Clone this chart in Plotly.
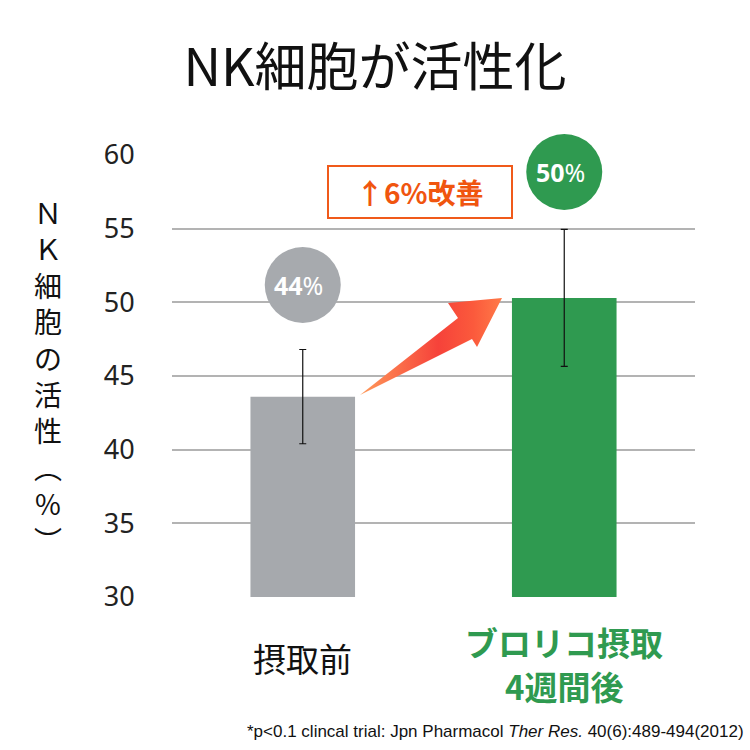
import plotly.graph_objects as go

# ---- data ----
categories = ["摂取前", "ブロリコ摂取<br>4週間後"]
values = [43.6, 50.3]
errors = [3.2, 4.65]
value_numbers = ["44", "50"]
bar_colors = ["#a6a9ad", "#2f9a50"]
label_colors = ["#111111", "#2f9a50"]
tick_vals = [30, 35, 40, 45, 50, 55, 60]
title_text = "NK細胞が活性化"
ytitle_chars = ["Ｎ", "Ｋ", "細", "胞", "の", "活", "性", "︵", "%", "︶"]
improve_text = "↑6%改善"
footnote = "*p<0.1 clincal trial: Jpn Pharmacol <i>Ther Res.</i> 40(6):489-494(2012)"

W, H = 750, 750
L, R, T, B = 172, 55, 155, 153
PW, PH = W - L - R, H - T - B

def px_x(p):
    return (p - L) / PW

def px_y(p):
    return (H - B - p) / PH

JP = "Noto Sans CJK JP"

fig = go.Figure()
fig.add_trace(go.Bar(
    x=[0, 1], y=values, width=0.4,
    marker=dict(color=bar_colors, line=dict(width=0)),
    error_y=dict(type="data", array=errors, color="#111111", thickness=1.2, width=3.5),
    hoverinfo="skip", showlegend=False,
))

# arrow (decoration) on pixel-coordinate overlay axes
arrow_x = [360, 458, 448, 502, 477, 472, 360]
arrow_y = [395, 318, 303, 298, 347, 339, 395]
fig.add_trace(go.Scatter(
    x=arrow_x, y=arrow_y, xaxis="x2", yaxis="y2", mode="lines",
    fill="toself", line=dict(width=0, color="rgba(0,0,0,0)"),
    fillgradient=dict(type="horizontal",
                      colorscale=[[0, "#ff9a5a"], [0.55, "#f6423a"], [0.8, "#fb5a3c"], [1, "#ff7a48"]]),
    hoverinfo="skip", showlegend=False,
))

shapes = []
annotations = []

# value circles
circle_cy = [285, 172]
circle_fill = ["#a7aaae", "#2f9a50"]
for i in range(2):
    shapes.append(dict(type="circle", xref="x", yref="paper", xsizemode="pixel", ysizemode="pixel",
                       xanchor=i, yanchor=px_y(circle_cy[i]), x0=-38, x1=38, y0=-38, y1=38,
                       fillcolor=circle_fill[i], line=dict(width=0), layer="above"))
    annotations.append(dict(x=i - 0.015, y=px_y(circle_cy[i]), xref="x", yref="paper",
                            text="<b>" + value_numbers[i] + "</b>%",
                            showarrow=False, font=dict(family="Noto Sans", size=25, color="white"),
                            xanchor="center", yanchor="middle"))

# improvement box
shapes.append(dict(type="rect", xref="paper", yref="paper",
                   x0=px_x(328), x1=px_x(512), y0=px_y(218), y1=px_y(166),
                   fillcolor="white", line=dict(color="#f05a1a", width=2), layer="above"))
annotations.append(dict(x=px_x(420), y=px_y(192), xref="paper", yref="paper",
                        text="<b>" + improve_text + "</b>", showarrow=False,
                        font=dict(family=JP, size=28, color="#f0550f"),
                        xanchor="center", yanchor="middle"))

# x category labels (each line as its own text)
label_first_cy = [658, 642]
for i, c in enumerate(categories):
    for j, line in enumerate(c.split("<br>")):
        txt = line if i == 0 else "<b>" + line + "</b>"
        annotations.append(dict(x=i, y=px_y(label_first_cy[i] + 44 * j), xref="x", yref="paper", text=txt,
                                showarrow=False, font=dict(family=JP, size=33, color=label_colors[i]),
                                xanchor="center", yanchor="middle", align="center"))

# vertical y title (upright stacked characters, one text block)
ytitle = "<br>".join(ytitle_chars)
annotations.append(dict(x=px_x(48), y=px_y(376), xref="paper", yref="paper", text=ytitle,
                        showarrow=False, font=dict(family=JP, size=28, color="#111111"),
                        align="center", xanchor="center", yanchor="middle"))

# footnote
annotations.append(dict(x=px_x(746), y=px_y(731), xref="paper", yref="paper", text=footnote,
                        showarrow=False, font=dict(family="Liberation Sans", size=17, color="#111111"),
                        xanchor="right", yanchor="middle"))

fig.update_layout(
    width=W, height=H,
    margin=dict(l=L, r=R, t=T, b=B),
    paper_bgcolor="white", plot_bgcolor="white",
    title=dict(text=title_text, x=0.5, xanchor="center", y=1 - 68 / H, yanchor="middle",
               font=dict(family=JP, size=52, color="#111111")),
    xaxis=dict(range=[-0.5, 1.5], showticklabels=False, showgrid=False, zeroline=False,
               showline=False, ticks=""),
    yaxis=dict(range=[30, 60], tickvals=tick_vals, showgrid=True, gridcolor="#b3b3b3", gridwidth=1.5,
               zeroline=False, showline=False, ticks="outside", ticklen=31, tickcolor="rgba(0,0,0,0)",
               tickfont=dict(family="Noto Sans", size=27, color="#222222")),
    xaxis2=dict(overlaying="x", range=[L, W - R], visible=False),
    yaxis2=dict(overlaying="y", range=[H - B, T], visible=False),
    shapes=shapes, annotations=annotations,
)

fig.write_html("out.html")
